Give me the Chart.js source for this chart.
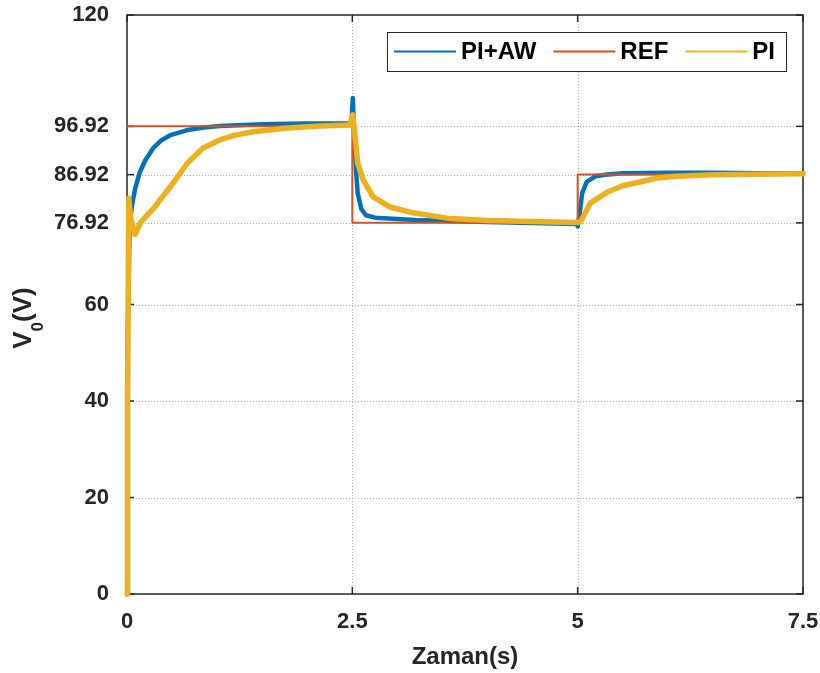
<!DOCTYPE html>
<html>
<head>
<meta charset="utf-8">
<script src="https://cdn.jsdelivr.net/npm/chart.js@4.4.1/dist/chart.umd.min.js"></script>
<style>
  html, body { margin: 0; padding: 0; background: #ffffff; }
</style>
</head>
<body>
<canvas id="voltChart" width="820" height="673"></canvas>
<script>
// ---- data ----
const seriesNames = ["PI+AW", "REF", "PI"];

const tAW = [0, 0.01, 0.03, 0.06, 0.09, 0.14, 0.2, 0.29, 0.38, 0.48, 0.66, 0.85, 1.03, 1.3, 1.6, 2.0, 2.49,
  2.505, 2.52, 2.54, 2.56, 2.6, 2.65, 2.75, 2.9, 3.2, 3.6, 4.0, 4.5, 4.99,
  5.0, 5.02, 5.05, 5.1, 5.2, 5.3, 5.5, 6.0, 6.5, 7.0, 7.5];
const vAW = [0, 55, 77, 81, 84, 87.3, 89.8, 92.4, 94, 95.1, 96.1, 96.7, 97.0, 97.2, 97.4, 97.5, 97.5,
  102.8, 96, 88, 83, 79.8, 78.5, 78, 77.8, 77.5, 77.3, 77.1, 76.9, 76.7,
  76.2, 78.5, 83.1, 85.4, 86.6, 86.9, 87.2, 87.3, 87.3, 87.2, 87.2];

const tRef = [0, 2.5, 2.5, 5, 5, 7.5];
const vRef = [96.92, 96.92, 76.92, 76.92, 86.92, 86.92];

const tPI = [0, 0.005, 0.02, 0.04, 0.09, 0.15, 0.29, 0.48, 0.67, 0.84, 1.03, 1.2, 1.4, 1.78, 2.14, 2.47,
  2.505, 2.53, 2.56, 2.62, 2.73, 2.92, 3.17, 3.55, 4.0, 4.5, 4.99,
  5.03, 5.14, 5.33, 5.5, 5.69, 5.88, 6.1, 6.5, 7.0, 7.5];
const vPI = [0, 40, 82, 78, 74.5, 77, 79.8, 84.4, 89.3, 92.4, 94.1, 95.1, 95.8, 96.6, 97.0, 97.2,
  99.3, 95, 89.3, 85.8, 82.3, 80.2, 79.0, 77.9, 77.4, 77.2, 77.0,
  77.1, 81.0, 83.3, 84.6, 85.4, 86.2, 86.6, 86.9, 87.0, 87.1];

const xTicks = [0, 2.5, 5, 7.5];
const yTicks = [0, 20, 40, 60, 76.92, 86.92, 96.92, 120];
const yTickLabels = ["0", "20", "40", "60", "76.92", "86.92", "96.92", "120"];

const FONT = "'Liberation Sans', Arial, sans-serif";
const INK = "#262626";

function pts(ts, vs) {
  return ts.map((t, i) => ({ x: t, y: vs[i] }));
}

// gridlines, box, inner ticks, legend and axis titles
const matlabAxes = {
  id: "matlabAxes",
  beforeDatasetsDraw(chart) {
    const { ctx, chartArea: a, scales: { x, y } } = chart;
    ctx.save();
    ctx.strokeStyle = "#a8a8a8";
    ctx.lineWidth = 1;
    ctx.setLineDash([1, 2]);
    yTicks.forEach(v => {
      if (v <= 0 || v >= 120) return;
      const py = Math.round(y.getPixelForValue(v)) + 0.5;
      ctx.beginPath(); ctx.moveTo(a.left, py); ctx.lineTo(a.right, py); ctx.stroke();
    });
    xTicks.forEach(v => {
      if (v <= 0 || v >= 7.5) return;
      const px = Math.round(x.getPixelForValue(v)) + 0.5;
      ctx.beginPath(); ctx.moveTo(px, a.top); ctx.lineTo(px, a.bottom); ctx.stroke();
    });
    ctx.setLineDash([]);
    ctx.strokeStyle = INK;
    ctx.lineWidth = 1.5;
    ctx.strokeRect(a.left, a.top, a.right - a.left, a.bottom - a.top);
    // inward tick marks
    yTicks.forEach(v => {
      const py = y.getPixelForValue(v);
      ctx.beginPath(); ctx.moveTo(a.left, py); ctx.lineTo(a.left + 7, py); ctx.stroke();
      ctx.beginPath(); ctx.moveTo(a.right, py); ctx.lineTo(a.right - 7, py); ctx.stroke();
    });
    xTicks.forEach(v => {
      const px = x.getPixelForValue(v);
      ctx.beginPath(); ctx.moveTo(px, a.bottom); ctx.lineTo(px, a.bottom - 7); ctx.stroke();
      ctx.beginPath(); ctx.moveTo(px, a.top); ctx.lineTo(px, a.top + 7); ctx.stroke();
    });
    ctx.restore();
  },
  afterDraw(chart) {
    const { ctx, chartArea: a } = chart;
    ctx.save();
    ctx.fillStyle = INK;

    // x title
    ctx.font = "bold 24px " + FONT;
    ctx.textAlign = "center";
    ctx.textBaseline = "alphabetic";
    ctx.fillText("Zaman(s)", (a.left + a.right) / 2, 664);

    // y title with subscript
    ctx.translate(31, 318);
    ctx.rotate(-Math.PI / 2);
    ctx.textAlign = "left";
    const big = "bold 26px " + FONT, small = "bold 17px " + FONT;
    ctx.font = big; const wV = ctx.measureText("V").width; const wP = ctx.measureText("(V)").width;
    ctx.font = small; const w0 = ctx.measureText("0").width;
    let sx = -(wV + w0 + wP) / 2;
    ctx.font = big; ctx.fillText("V", sx, 0); sx += wV;
    ctx.font = small; ctx.fillText("0", sx, 12); sx += w0;
    ctx.font = big; ctx.fillText("(V)", sx, 0);
    ctx.setTransform(1, 0, 0, 1, 0, 0);

    // legend box
    const colors = chart.data.datasets.map(d => d.borderColor);
    ctx.font = "bold 24px " + FONT;
    const lineLen = 62, gapA = 5, gapB = 17, padL = 7, padR = 11;
    const widths = seriesNames.map(s => ctx.measureText(s).width);
    let total = padL + padR;
    widths.forEach((w, i) => { total += lineLen + gapA + w + (i < widths.length - 1 ? gapB : 0); });
    const boxR = 786, boxT = 32, boxB = 71;
    const boxL = boxR - total;
    ctx.fillStyle = "#ffffff";
    ctx.fillRect(boxL, boxT, total, boxB - boxT);
    ctx.strokeStyle = INK;
    ctx.lineWidth = 1;
    ctx.strokeRect(boxL + 0.5, boxT + 0.5, total, boxB - boxT);
    const cy = (boxT + boxB) / 2;
    let lx = boxL + padL;
    ctx.textBaseline = "middle";
    seriesNames.forEach((s, i) => {
      ctx.strokeStyle = colors[i];
      ctx.lineWidth = 2;
      ctx.beginPath(); ctx.moveTo(lx, cy); ctx.lineTo(lx + lineLen, cy); ctx.stroke();
      lx += lineLen + gapA;
      ctx.fillStyle = "#000000";
      ctx.fillText(s, lx, cy + 1);
      lx += widths[i] + gapB;
    });
    ctx.restore();
  }
};

const ctx = document.getElementById("voltChart").getContext("2d");
const voltChart = new Chart(ctx, {
  type: "line",
  data: {
    datasets: [
      { label: seriesNames[0], data: pts(tAW, vAW), borderColor: "#0072BD", borderWidth: 4.5, order: 2 },
      { label: seriesNames[1], data: pts(tRef, vRef), borderColor: "#D95319", borderWidth: 2, order: 1 },
      { label: seriesNames[2], data: pts(tPI, vPI), borderColor: "#EDB120", borderWidth: 5.5, order: 0 },
    ],
  },
  options: {
    responsive: false,
    animation: false,
    devicePixelRatio: 1,
    layout: { padding: { left: 0, top: 15, right: 17, bottom: 0 } },
    elements: {
      point: { radius: 0 },
      line: { tension: 0, fill: false, borderJoinStyle: "round", borderCapStyle: "round" },
    },
    datasets: { line: { clip: 6 } },
    scales: {
      x: {
        type: "linear",
        min: 0,
        max: 7.5,
        afterBuildTicks: s => { s.ticks = xTicks.map(v => ({ value: v })); },
        afterFit: s => { s.height = 79; s.paddingLeft = 0; s.paddingRight = 0; },
        grid: { display: false },
        border: { display: false },
        ticks: {
          autoSkip: false,
          maxRotation: 0,
          padding: 7,
          color: INK,
          font: { family: FONT, size: 22, weight: "bold" },
          callback: v => String(v),
        },
      },
      y: {
        type: "linear",
        min: 0,
        max: 120,
        afterBuildTicks: s => { s.ticks = yTicks.map(v => ({ value: v })); },
        afterFit: s => { s.width = 127; s.paddingTop = 0; s.paddingBottom = 0; },
        grid: { display: false },
        border: { display: false },
        ticks: {
          autoSkip: false,
          padding: 10,
          color: INK,
          font: { family: FONT, size: 22, weight: "bold" },
          callback: (v, i) => yTickLabels[i],
        },
      },
    },
    plugins: {
      legend: { display: false },
      tooltip: { enabled: false },
    },
  },
  plugins: [matlabAxes],
});
</script>
</body>
</html>
